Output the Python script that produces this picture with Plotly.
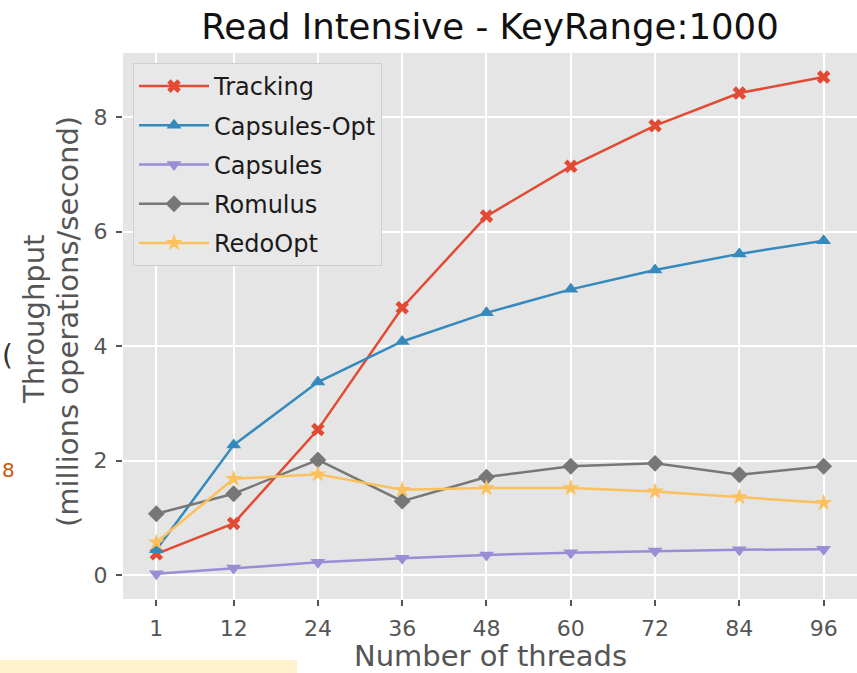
import plotly.graph_objects as go

threads = [1, 12, 24, 36, 48, 60, 72, 84, 96]
tracking = [0.37, 0.90, 2.54, 4.67, 6.27, 7.14, 7.85, 8.42, 8.70]
capsules_opt = [0.44, 2.27, 3.37, 4.08, 4.58, 4.99, 5.33, 5.61, 5.84]
capsules = [0.02, 0.12, 0.22, 0.29, 0.35, 0.39, 0.42, 0.44, 0.45]
romulus = [1.07, 1.42, 2.01, 1.29, 1.71, 1.90, 1.95, 1.75, 1.90]
redoopt = [0.57, 1.68, 1.76, 1.49, 1.52, 1.52, 1.46, 1.36, 1.26]

series_names = ["Tracking", "Capsules-Opt", "Capsules", "Romulus", "RedoOpt"]
series_values = [tracking, capsules_opt, capsules, romulus, redoopt]
colors = ["#E24A33", "#348ABD", "#988ED5", "#777777", "#FBC15E"]
symbols = ["x", "triangle-up", "triangle-down", "diamond", "star"]
sizes = [12, 13, 13, 13, 13]

y_ticks = [0, 2, 4, 6, 8]

W, H = 857, 673
L, R, T, B = 123, 0, 53, 74
plot_w = W - L - R
plot_h = H - T - B

def px_x(p):
    return (p - L) / plot_w

def px_y(p):
    return (H - B - p) / plot_h

fig = go.Figure()
for i, (name, vals) in enumerate(zip(series_names, series_values)):
    fig.add_trace(go.Scatter(
        x=threads, y=vals, name=name, mode="lines+markers",
        line=dict(color=colors[i], width=2.5),
        marker=dict(symbol=symbols[i], size=sizes[i], color=colors[i],
                    line=dict(width=0)),
        legendgroup=name,
    ))

fig.update_layout(
    width=W, height=H,
    margin=dict(l=L, r=R, t=T, b=B),
    paper_bgcolor="white",
    plot_bgcolor="#E5E5E5",
    font=dict(family="DejaVu Sans", color="#555555"),
    title=dict(text="Read Intensive - KeyRange:1000", x=px_x(490), xref="paper",
               xanchor="center", y=1 - 27 / H, yref="container", yanchor="middle",
               font=dict(size=35.5, color="#111111", family="DejaVu Sans")),
    showlegend=True,
    legend=dict(x=px_x(133), y=px_y(63), xanchor="left", yanchor="top",
                bgcolor="#E8E8E8", bordercolor="#CFCFCF", borderwidth=1,
                font=dict(size=24, color="#1a1a1a", family="DejaVu Sans"),
                itemwidth=70, tracegroupgap=5),
    xaxis=dict(range=[-3.75, 100.75], tickvals=threads, ticktext=[str(t) for t in threads],
               showgrid=True, gridcolor="white", gridwidth=1.8, zeroline=False,
               ticks="outside", ticklen=6, tickwidth=1.5, tickcolor="#555555",
               tickfont=dict(size=22, color="#555555"), ticklabelstandoff=4,
               showline=False),
    yaxis=dict(range=[-0.42, 9.12], tickvals=y_ticks, ticktext=[str(v) for v in y_ticks],
               showgrid=True, gridcolor="white", gridwidth=1.8, zeroline=False,
               ticks="outside", ticklen=6, tickwidth=1.5, tickcolor="#555555",
               tickfont=dict(size=22, color="#555555"), ticklabelstandoff=4,
               showline=False),
)

annotations = [
    dict(text="Number of threads", x=px_x(490), y=px_y(656), xref="paper", yref="paper",
         xanchor="center", yanchor="middle", showarrow=False,
         font=dict(size=29, color="#555555", family="DejaVu Sans")),
    dict(text="Throughput", x=px_x(34), y=px_y(320), xref="paper", yref="paper",
         xanchor="center", yanchor="middle", showarrow=False, textangle=-90,
         font=dict(size=29, color="#555555", family="DejaVu Sans")),
    dict(text="(millions operations/second)", x=px_x(68), y=px_y(322), xref="paper", yref="paper",
         xanchor="center", yanchor="middle", showarrow=False, textangle=-90,
         font=dict(size=29, color="#555555", family="DejaVu Sans")),
    dict(text="(", x=px_x(0), y=px_y(355), xref="paper", yref="paper",
         xanchor="left", yanchor="middle", showarrow=False,
         font=dict(size=28, color="#333333", family="DejaVu Sans")),
    dict(text="8", x=px_x(0), y=px_y(470), xref="paper", yref="paper",
         xanchor="left", yanchor="middle", showarrow=False,
         font=dict(size=20, color="#C55A11", family="DejaVu Sans")),
]
fig.update_layout(annotations=annotations)

fig.add_shape(type="rect", xref="paper", yref="paper",
              x0=px_x(0), x1=px_x(297), y0=px_y(673), y1=px_y(660),
              fillcolor="#FFF2CC", line=dict(width=0), layer="below")

fig.write_html("out.html")
